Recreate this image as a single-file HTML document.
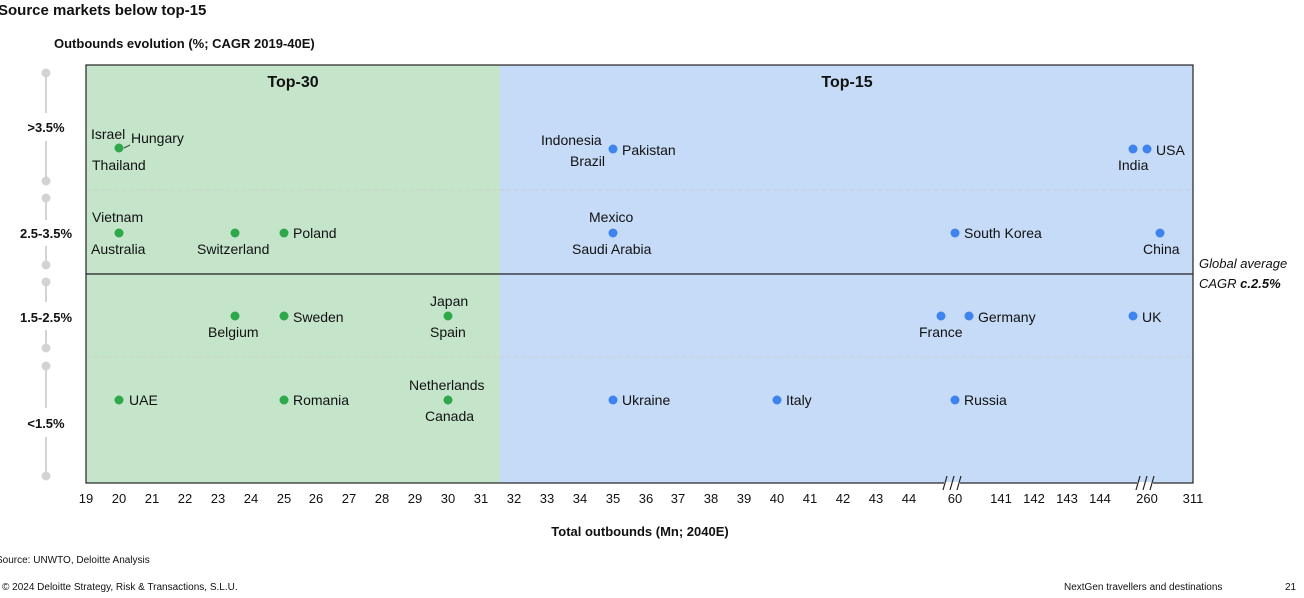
<!DOCTYPE html><html><head><style>body{margin:0;background:#fff}svg{display:block;font-family:"Liberation Sans",Calibri,sans-serif}</style></head><body>
<svg width="1304" height="598" viewBox="0 0 1304 598" xmlns="http://www.w3.org/2000/svg">
<text x="-2" y="15" font-size="15" font-weight="bold" fill="#111">Source markets below top-15</text>
<text x="54" y="48" font-size="13" font-weight="bold" fill="#111">Outbounds evolution (%; CAGR 2019-40E)</text>
<rect x="86" y="65" width="414" height="418" fill="#c5e5cb"/>
<rect x="500" y="65" width="693" height="418" fill="#c6dbf7"/>
<g stroke="#cfcfcf" stroke-dasharray="4,3"><line x1="87" y1="190" x2="1193" y2="190"/><line x1="87" y1="357" x2="1193" y2="357"/></g>
<line x1="86" y1="274" x2="1193" y2="274" stroke="#222" stroke-width="1.2"/>
<rect x="86" y="65" width="1107" height="418" fill="none" stroke="#222" stroke-width="1.2"/>
<g stroke="#d3d3d3" stroke-width="2" fill="#d3d3d3">
<line x1="46" y1="73" x2="46" y2="113"/><line x1="46" y1="141" x2="46" y2="181"/><circle cx="46" cy="73" r="3.5"/><circle cx="46" cy="181" r="3.5"/>
<line x1="46" y1="198" x2="46" y2="220"/><line x1="46" y1="246" x2="46" y2="265"/><circle cx="46" cy="198" r="3.5"/><circle cx="46" cy="265" r="3.5"/>
<line x1="46" y1="282" x2="46" y2="302"/><line x1="46" y1="330" x2="46" y2="348"/><circle cx="46" cy="282" r="3.5"/><circle cx="46" cy="348" r="3.5"/>
<line x1="46" y1="366" x2="46" y2="408"/><line x1="46" y1="437" x2="46" y2="476"/><circle cx="46" cy="366" r="3.5"/><circle cx="46" cy="476" r="3.5"/>
</g>
<g font-size="13" font-weight="bold" fill="#111" text-anchor="middle">
<text x="46" y="132">&gt;3.5%</text><text x="46" y="238">2.5-3.5%</text><text x="46" y="322">1.5-2.5%</text><text x="46" y="428">&lt;1.5%</text>
<text x="293" y="87" font-size="16">Top-30</text><text x="847" y="87" font-size="16">Top-15</text>
<text x="640" y="536">Total outbounds (Mn; 2040E)</text>
</g>
<g font-size="14" fill="#111">
<text x="91" y="139">Israel</text><text x="131" y="143">Hungary</text><text x="92" y="170">Thailand</text>
<path d="M124 148 L130 145" stroke="#333"/>
<text x="92" y="222">Vietnam</text><text x="91" y="254">Australia</text><text x="197" y="254">Switzerland</text><text x="293" y="238">Poland</text>
<text x="208" y="337">Belgium</text><text x="293" y="322">Sweden</text><text x="430" y="306">Japan</text><text x="430" y="337">Spain</text>
<text x="129" y="405">UAE</text><text x="293" y="405">Romania</text><text x="409" y="390">Netherlands</text><text x="425" y="421">Canada</text>
<text x="541" y="145">Indonesia</text><text x="570" y="166">Brazil</text><text x="622" y="155">Pakistan</text>
<text x="1156" y="155">USA</text><text x="1118" y="170">India</text>
<text x="589" y="222">Mexico</text><text x="572" y="254">Saudi Arabia</text><text x="964" y="238">South Korea</text><text x="1143" y="254">China</text>
<text x="919" y="337">France</text><text x="978" y="322">Germany</text><text x="1142" y="322">UK</text>
<text x="622" y="405">Ukraine</text><text x="786" y="405">Italy</text><text x="964" y="405">Russia</text>
<text x="1199" y="268" font-style="italic" font-size="13">Global average</text>
<text x="1199" y="288" font-style="italic" font-size="13">CAGR <tspan font-weight="bold">c.2.5%</tspan></text>
</g>
<g fill="#2ea84a">
<circle cx="119" cy="148" r="4.5"/><circle cx="119" cy="233" r="4.5"/><circle cx="235" cy="233" r="4.5"/><circle cx="284" cy="233" r="4.5"/>
<circle cx="235" cy="316" r="4.5"/><circle cx="284" cy="316" r="4.5"/><circle cx="448" cy="316" r="4.5"/>
<circle cx="119" cy="400" r="4.5"/><circle cx="284" cy="400" r="4.5"/><circle cx="448" cy="400" r="4.5"/>
</g>
<g fill="#3f84ee">
<circle cx="613" cy="149" r="4.5"/><circle cx="1133" cy="149" r="4.5"/><circle cx="1147" cy="149" r="4.5"/>
<circle cx="613" cy="233" r="4.5"/><circle cx="955" cy="233" r="4.5"/><circle cx="1160" cy="233" r="4.5"/>
<circle cx="941" cy="316" r="4.5"/><circle cx="969" cy="316" r="4.5"/><circle cx="1133" cy="316" r="4.5"/>
<circle cx="613" cy="400" r="4.5"/><circle cx="777" cy="400" r="4.5"/><circle cx="955" cy="400" r="4.5"/>
</g>
<rect x="944" y="482" width="16" height="3" fill="#fff"/><rect x="1137" y="482" width="16" height="3" fill="#fff"/>
<g stroke="#222" stroke-width="1.2"><path d="M943 490 L947 476 M950 490 L954 476 M957 490 L961 476 M1136 490 L1140 476 M1143 490 L1147 476 M1150 490 L1154 476"/></g>
<g font-size="13" fill="#111" text-anchor="middle">
<text x="86" y="503">19</text><text x="119" y="503">20</text><text x="152" y="503">21</text><text x="185" y="503">22</text><text x="218" y="503">23</text><text x="251" y="503">24</text><text x="284" y="503">25</text><text x="316" y="503">26</text><text x="349" y="503">27</text><text x="382" y="503">28</text><text x="415" y="503">29</text><text x="448" y="503">30</text><text x="481" y="503">31</text><text x="514" y="503">32</text><text x="547" y="503">33</text><text x="580" y="503">34</text><text x="613" y="503">35</text><text x="646" y="503">36</text><text x="678" y="503">37</text><text x="711" y="503">38</text><text x="744" y="503">39</text><text x="777" y="503">40</text><text x="810" y="503">41</text><text x="843" y="503">42</text><text x="876" y="503">43</text><text x="909" y="503">44</text><text x="955" y="503">60</text><text x="1001" y="503">141</text><text x="1034" y="503">142</text><text x="1067" y="503">143</text><text x="1100" y="503">144</text><text x="1147" y="503">260</text><text x="1193" y="503">311</text>
</g>
<g font-size="10" fill="#111">
<text x="-4" y="563">Source: UNWTO, Deloitte Analysis</text>
<text x="2" y="590">© 2024 Deloitte Strategy, Risk &amp; Transactions, S.L.U.</text>
<text x="1064" y="590">NextGen travellers and destinations</text>
<text x="1285" y="590">21</text>
</g>
</svg></body></html>
